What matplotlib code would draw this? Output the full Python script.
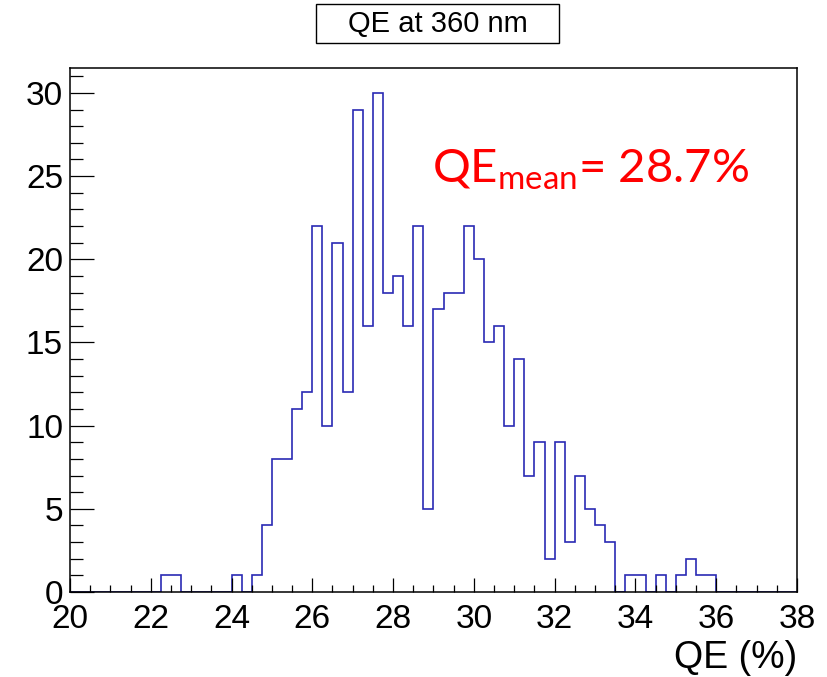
import numpy as np
import matplotlib
matplotlib.use("Agg")
import matplotlib.pyplot as plt
from matplotlib.patches import Rectangle
from matplotlib.ticker import MultipleLocator

# QE histogram, 0.25 % bins from 20 to 38
bin_lo = 20.0
bin_hi = 38.0
bin_width = 0.25
counts = [
    0, 0, 0, 0, 0, 0, 0, 0, 0, 1, 1, 0,      # 20.00 - 22.75
    0, 0, 0, 0, 1, 0, 1, 4, 8, 8, 11, 12,    # 23.00 - 25.75
    22, 10, 21, 12, 29, 16, 30, 18, 19, 16, 22, 5,   # 26.00 - 28.75
    17, 18, 18, 22, 20, 15, 16, 10, 14, 7, 9, 2,     # 29.00 - 31.75
    9, 3, 7, 5, 4, 3, 0, 1, 1, 0, 1, 0,      # 32.00 - 34.75
    1, 2, 1, 1, 0, 0, 0, 0, 0, 0, 0, 0,      # 35.00 - 37.75
]
title = "QE at 360 nm"
xlabel = "QE (%)"
qe_mean = 28.7

plt.rcParams['font.family'] = ['Liberation Sans', 'DejaVu Sans']
plt.rcParams['mathtext.fontset'] = 'custom'
plt.rcParams['mathtext.rm'] = 'Lato'
plt.rcParams['mathtext.it'] = 'Lato'

fig = plt.figure(figsize=(8.27, 6.77), dpi=100)
ax = fig.add_axes([0.0846, 0.1256, 0.8791, 0.774])

edges = np.arange(bin_lo, bin_hi + bin_width / 2, bin_width)
ax.stairs(counts, edges, baseline=0, color='#2a2ab4', linewidth=1.2)

ax.set_xlim(bin_lo, bin_hi)
ax.set_ylim(0, max(counts) * 1.05)

ax.xaxis.set_major_locator(MultipleLocator(2))
ax.xaxis.set_minor_locator(MultipleLocator(0.5))
ax.yaxis.set_major_locator(MultipleLocator(5))
ax.yaxis.set_minor_locator(MultipleLocator(1))
ax.tick_params(axis='x', which='major', direction='in', length=10, width=0.9,
               labelsize=24, pad=9)
ax.tick_params(axis='x', which='minor', direction='in', length=5, width=0.9)
ax.tick_params(axis='y', which='major', direction='in', length=17, width=0.9,
               labelsize=24, pad=5)
ax.tick_params(axis='y', which='minor', direction='in', length=9, width=0.9)
for s in ax.spines.values():
    s.set_linewidth(1.1)

ax.set_xlabel(xlabel, fontsize=27, loc='right', labelpad=3)

# title box
fig.patches.append(Rectangle((0.3821, 0.9365), 0.2938, 0.0576,
                             transform=fig.transFigure, facecolor='white',
                             edgecolor='black', linewidth=1.0))
fig.text(0.529, 0.9645, title, ha='center', va='center', fontsize=21)

ax.text(0.498, 0.78, r"QE$_{\mathrm{mean}}$= %.1f%%" % qe_mean,
        transform=ax.transAxes, color='red', fontsize=34, family='Lato',
        ha='left', va='baseline')

fig.savefig("out.png", dpi=100)
